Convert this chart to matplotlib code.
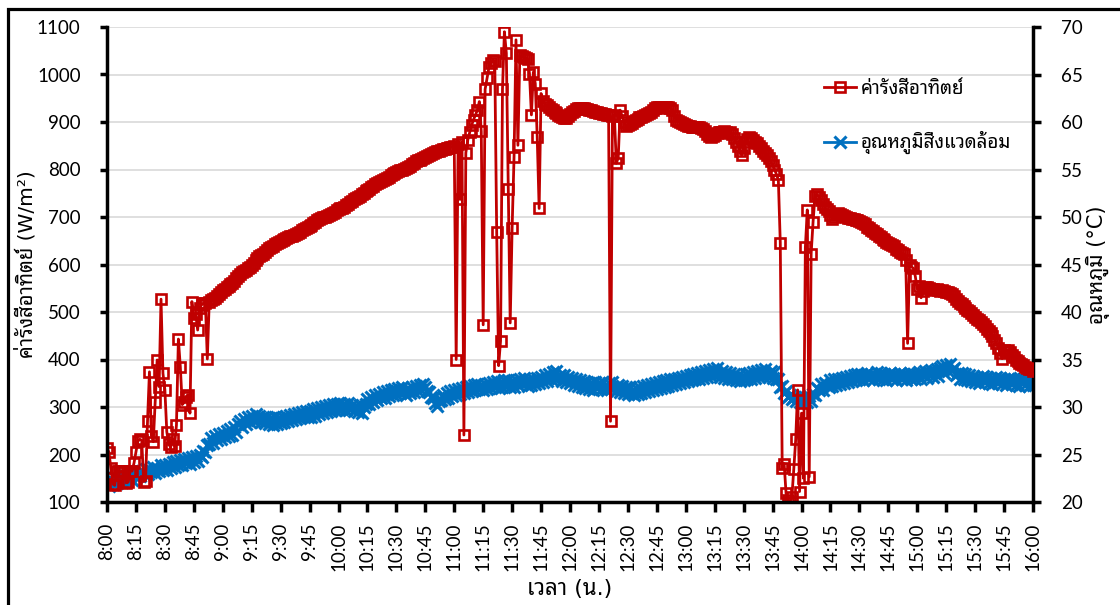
import numpy as np
import matplotlib
matplotlib.use('Agg')
import matplotlib.pyplot as plt
from matplotlib import font_manager as fm
from matplotlib import ft2font
from matplotlib.patches import Rectangle

# ---------------- data (1-minute samples, 8:00 - 16:00) ----------------
start_hour = 8
minutes = np.arange(0, 481)  # minutes after 8:00

radiation = [
    214, 205, 172, 138, 135, 165, 165, 163, 165, 165, 140, 142, 165, 165, 182,
    205, 228, 232, 230, 143, 145, 270, 374, 240, 227, 311, 399, 343, 527, 371,
    336, 248, 222, 215, 232, 218, 262, 443, 385, 305, 310, 322, 326, 287, 522,
    487, 495, 462, 508, 515, 518, 520, 401, 522, 525, 527, 530, 534, 538, 542,
    546, 549, 552, 555, 558, 562, 566, 571, 576, 580, 584, 587, 589, 592, 595,
    599, 604, 609, 613, 617, 620, 623, 627, 631, 634, 637, 640, 643, 645, 647,
    649, 651, 653, 655, 657, 659, 661, 663, 665, 667, 669, 672, 675, 677, 679,
    681, 684, 687, 690, 693, 695, 697, 699, 701, 703, 705, 707, 709, 711, 714,
    716, 718, 720, 722, 725, 728, 731, 734, 737, 740, 742, 745, 748, 751, 754,
    757, 760, 763, 766, 769, 771, 773, 775, 778, 780, 782, 785, 788, 790, 792,
    794, 796, 798, 800, 802, 804, 806, 808, 811, 814, 817, 819, 821, 823, 825,
    827, 829, 831, 833, 835, 837, 839, 840, 842, 843, 844, 845, 846, 847, 848,
    850, 400, 853, 737, 858, 241, 835, 862, 878, 893, 905, 915, 925, 943, 880,
    473, 969, 992, 1015, 1025, 1030, 1029, 668, 387, 439, 969, 1090, 1045, 760, 477,
    677, 827, 1073, 851, 1040, 1038, 1036, 1035, 1033, 1002, 915, 1005, 981, 869, 718,
    960, 945, 938, 935, 932, 928, 925, 922, 918, 915, 912, 910, 908, 909, 912,
    916, 920, 924, 927, 929, 930, 930, 929, 928, 927, 926, 925, 924, 922, 920,
    919, 918, 917, 916, 915, 914, 270, 912, 915, 813, 825, 925, 912, 900, 892,
    893, 895, 898, 902, 905, 907, 910, 911, 912, 914, 916, 918, 920, 925, 930,
    932, 932, 931, 930, 931, 932, 931, 930, 925, 912, 905, 903, 900, 897, 895,
    893, 892, 891, 890, 890, 889, 889, 890, 888, 885, 880, 875, 870, 869, 870,
    873, 876, 878, 878, 879, 880, 879, 877, 878, 874, 866, 858, 850, 840, 830,
    845, 858, 865, 868, 866, 862, 858, 855, 850, 846, 840, 835, 830, 824, 818,
    810, 800, 790, 778, 646, 171, 181, 118, 104, 100, 110, 169, 232, 336, 122,
    287, 150, 636, 715, 153, 623, 690, 745, 748, 742, 735, 728, 722, 716, 712,
    705, 695, 700, 706, 708, 706, 704, 702, 700, 698, 697, 696, 695, 694, 693,
    692, 690, 688, 685, 680, 676, 673, 670, 667, 664, 660, 657, 654, 651, 648,
    646, 643, 641, 638, 632, 630, 627, 625, 622, 610, 434, 600, 595, 592, 575,
    548, 555, 530, 545, 552, 553, 550, 548, 549, 547, 548, 546, 545, 546, 544,
    543, 542, 540, 537, 533, 528, 524, 520, 516, 512, 508, 505, 502, 498, 494,
    490, 486, 483, 479, 475, 470, 465, 460, 455, 450, 442, 434, 425, 413, 402,
    420, 418, 420, 415, 410, 405, 400, 396, 392, 390, 388, 385, 383, 381, 379,
    376,
]

temperature = [
    22.2, 21.7, 22.4, 21.9, 22.6, 22.0, 22.3, 22.7, 22.1, 22.8, 22.2, 22.5, 22.9, 22.3, 22.8,
    22.6, 23.1, 22.7, 23.3, 22.9, 23.5, 23.0, 23.4, 23.2, 23.7, 23.1, 23.6, 23.3, 23.9, 23.4,
    23.9, 23.4, 24.0, 23.6, 24.2, 23.7, 24.3, 23.9, 24.4, 23.9, 24.5, 24.1, 24.6, 24.0, 24.7,
    24.2, 24.8, 24.3, 25.0, 24.7, 25.4, 25.3, 26.0, 26.1, 26.7, 26.2, 27.0, 26.5, 27.2, 26.6,
    27.3, 26.8, 27.5, 27.0, 27.7, 27.1, 27.9, 27.4, 28.2, 28.5, 27.9, 28.7, 28.2, 29.0, 28.4,
    29.1, 28.5, 29.3, 28.6, 29.1, 28.4, 29.0, 28.3, 28.9, 28.2, 28.8, 28.1, 28.9, 28.2, 28.8,
    28.3, 29.0, 28.4, 29.1, 28.5, 29.2, 28.6, 29.3, 28.7, 29.4, 28.8, 29.5, 28.9, 29.6, 29.0,
    29.6, 29.0, 29.8, 29.1, 29.9, 29.3, 30.0, 29.4, 30.1, 29.5, 30.2, 29.6, 30.3, 29.7, 30.3,
    29.7, 30.4, 29.8, 30.3, 29.7, 30.4, 29.8, 30.2, 29.6, 30.1, 29.5, 30.2, 29.4, 30.0, 30.3,
    30.8, 30.3, 31.1, 30.5, 31.3, 30.7, 31.4, 30.9, 31.6, 31.0, 31.7, 31.2, 31.8, 31.3, 31.9,
    31.4, 32.0, 31.5, 32.1, 31.6, 31.3, 32.0, 31.5, 32.1, 31.6, 32.2, 31.7, 32.3, 31.8, 32.4,
    32.1, 31.7, 31.6, 31.1, 31.0, 30.4, 30.1, 30.6, 30.7, 31.3, 30.8, 31.5, 31.0, 31.7, 31.2,
    31.8, 31.3, 31.9, 31.4, 32.0, 31.5, 32.1, 31.6, 32.2, 31.7, 32.3, 31.8, 32.4, 31.9, 32.3,
    31.8, 32.4, 31.9, 32.5, 32.0, 32.6, 32.1, 32.7, 32.0, 32.6, 32.1, 32.8, 32.2, 32.8, 32.1,
    32.7, 32.1, 32.8, 32.3, 33.0, 32.4, 33.1, 32.5, 32.2, 32.9, 32.3, 33.0, 32.4, 33.1, 32.5,
    33.2, 32.6, 33.4, 32.7, 33.5, 32.9, 33.7, 33.0, 33.8, 33.1, 33.4, 32.7, 33.4, 32.6, 33.2,
    32.5, 33.1, 32.3, 33.0, 32.2, 32.8, 32.1, 32.7, 32.0, 32.6, 31.9, 32.5, 31.8, 32.6, 32.0,
    32.5, 31.9, 32.6, 32.0, 31.8, 32.5, 31.9, 32.6, 32.0, 31.7, 32.3, 31.6, 32.2, 31.5, 32.1,
    31.4, 32.1, 31.5, 31.3, 32.0, 31.4, 32.1, 31.5, 32.2, 31.6, 32.3, 31.7, 32.4, 31.8, 32.5,
    31.9, 32.6, 32.0, 32.7, 32.1, 32.8, 32.2, 32.9, 32.3, 33.0, 32.4, 33.1, 32.5, 33.2, 32.6,
    33.3, 32.7, 33.4, 32.8, 33.5, 32.9, 33.6, 33.0, 33.7, 33.1, 33.8, 33.2, 33.9, 33.3, 34.0,
    33.4, 34.1, 33.5, 33.2, 33.8, 33.1, 33.7, 33.0, 33.6, 32.9, 33.5, 32.8, 33.4, 32.7, 33.3,
    32.8, 33.5, 32.9, 33.6, 33.0, 33.7, 33.1, 33.8, 33.2, 33.9, 33.3, 34.0, 33.4, 33.2, 33.8,
    33.1, 33.7, 32.9, 32.9, 32.1, 32.2, 31.5, 31.7, 31.1, 31.3, 30.8, 31.1, 30.6, 31.1, 30.5,
    31.0, 30.4, 31.1, 30.5, 31.2, 30.6, 31.4, 31.3, 32.0, 31.8, 32.4, 31.8, 32.5, 32.3, 32.1,
    32.8, 32.2, 32.9, 32.3, 33.0, 32.4, 33.1, 32.5, 33.2, 32.6, 33.3, 32.7, 33.4, 32.8, 33.5,
    32.9, 33.5, 32.8, 33.4, 33.6, 32.9, 33.5, 32.8, 33.4, 33.7, 33.0, 33.6, 32.9, 33.5, 32.8,
    33.4, 33.6, 32.9, 33.5, 32.8, 33.4, 33.6, 32.9, 33.5, 32.8, 33.4, 33.6, 32.9, 33.5, 32.9,
    33.5, 33.7, 33.0, 33.6, 33.8, 33.1, 33.7, 33.9, 33.2, 33.8, 34.0, 33.3, 34.1, 34.3, 33.6,
    34.4, 33.8, 34.5, 33.9, 34.1, 33.4, 33.6, 33.0, 33.6, 32.9, 33.5, 32.8, 33.4, 32.7, 33.3,
    32.6, 33.2, 32.5, 33.1, 33.3, 32.6, 33.2, 32.5, 33.1, 32.4, 33.0, 33.2, 32.5, 33.1, 32.4,
    33.0, 32.3, 32.9, 33.1, 32.4, 33.0, 32.3, 32.9, 32.2, 32.8, 33.0, 32.3, 32.9, 32.2, 32.8,
    32.3,
]

series_labels = ['ค่ารังสีอาทิตย์', 'อุณหภูมิสิ่งแวดล้อม']
left_label = 'ค่ารังสีอาทิตย์ (W/m²)'
right_label = 'อุณหภูมิ (°C)'
x_label = 'เวลา (น.)'
tick_minutes = list(range(0, 481, 15))
tick_labels = [f"{start_hour + m // 60}:{m % 60:02d}" for m in tick_minutes]

# ---------------- fonts ----------------
thai_fonts = []
for f in fm.fontManager.ttflist:
    try:
        cmap = ft2font.FT2Font(f.fname).get_charmap()
    except Exception:
        continue
    if 0x0E04 in cmap and 0x0E48 in cmap and f.name not in thai_fonts:
        thai_fonts.append(f.name)
preferred = [n for n in ['Noto Sans Thai Looped', 'IBM Plex Sans Thai Looped', 'Noto Sans Thai']
             if n in thai_fonts]
thai_choice = preferred[:1] if preferred else thai_fonts[:1]

families = ['Lato'] + thai_choice + ['DejaVu Sans']
label_families = ['DejaVu Sans'] + thai_choice
plt.rcParams['font.family'] = families

RED = '#C00000'
BLUE = '#0070C0'

fig = plt.figure(figsize=(11.2, 6.05), dpi=100)
W, H = 1120, 605
ax = fig.add_axes([107 / W, 1 - 502 / H, (1033 - 107) / W, (502 - 27) / H])
ax2 = ax.twinx()
ax.set_zorder(ax2.get_zorder() + 1)
ax.patch.set_visible(False)

ax2.grid(axis='y', color='#d9d9d9', lw=1.2)
ax2.set_axisbelow(True)

l2, = ax2.plot(minutes, temperature, color=BLUE, lw=2.0, marker='x', ms=8.5, mew=2.2,
               label=series_labels[1])
l1, = ax.plot(minutes, radiation, color=RED, lw=2.0, marker='s', ms=7.0, mfc='none',
              mec=RED, mew=1.9, label=series_labels[0])

ax.set_xlim(0, 480)
ax.set_ylim(100, 1100)
ax2.set_ylim(20, 70)
ax.set_yticks(range(100, 1101, 100))
ax2.set_yticks(range(20, 71, 5))
ax.set_xticks(tick_minutes)
ax.set_xticklabels(tick_labels, rotation=90)

for s in ['top', 'right']:
    ax.spines[s].set_visible(False)
for s in ['top', 'left', 'bottom']:
    ax2.spines[s].set_visible(False)
for s in ['left', 'bottom']:
    ax.spines[s].set_linewidth(2.5)
ax2.spines['right'].set_linewidth(2.5)

ax.tick_params(axis='y', direction='out', length=5, width=2.5, labelsize=13.5, pad=14)
ax.tick_params(axis='x', direction='out', length=7.5, width=2.5, labelsize=13.5, pad=7)
ax2.tick_params(axis='y', direction='out', length=6, width=2.5, labelsize=13.5, pad=14)

ax.set_ylabel(left_label, fontsize=14.5, labelpad=0, family=label_families)
ax2.set_ylabel(right_label, fontsize=15, labelpad=2, family=label_families)
ax.set_xlabel(x_label, fontsize=16, labelpad=6, family=label_families)

leg = ax.legend([l1, l2], series_labels, loc='upper left',
                bbox_to_anchor=(816 / W, 1 - 72 / H), bbox_transform=fig.transFigure,
                frameon=False, fontsize=13.5, labelspacing=1.85, handlelength=1.75,
                handletextpad=0.25, borderaxespad=0)

fig.add_artist(Rectangle((7.5 / W, -0.2), 2.0, (1 - 8.5 / H) + 0.2, transform=fig.transFigure,
                         fill=False, ec='black', lw=2.3, clip_on=False))

fig.savefig('out.png', dpi=100)
